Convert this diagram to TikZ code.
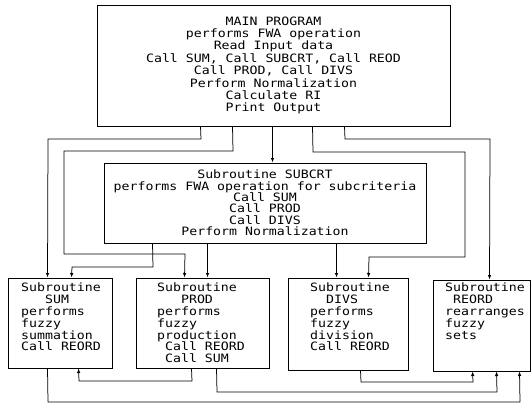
\documentclass[tikz,border=0pt]{standalone}
\usepackage{fontspec}
\newfontfamily\plotfont[FakeStretch=1.15]{DejaVu Sans Mono}
\usetikzlibrary{arrows.meta}
\begin{document}
\begin{tikzpicture}[x=1pt,y=-1pt,
  box/.style={draw, line width=1pt, rectangle, inner sep=0pt},
  maintxt/.style={font=\plotfont\fontsize{11.5}{12.4}\selectfont, align=center},
  subtxt/.style={font=\plotfont\fontsize{11.5}{11.4}\selectfont, align=center},
  smalltxt/.style={font=\plotfont\fontsize{11.5}{11.8}\selectfont, align=left, inner sep=0pt, anchor=north west},
  conn/.style={line width=0.75pt, -{Latex[length=4.5pt,width=3.5pt]}}]
\useasboundingbox (0,0) rectangle (532,407);
\fill[white] (0,0) rectangle (532,407);

\node[box, maintxt, minimum width=353pt, minimum height=121pt] (main) at (273.5,65.5)
 {MAIN PROGRAM\\performs FWA operation\\Read Input data\\Call SUM, Call SUBCRT, Call REOD\\Call PROD, Call DIVS\\Perform Normalization\\Calculate RI\\Print Output};

\node[box, subtxt, minimum width=322pt, minimum height=80pt] (subcrt) at (265,203)
 {Subroutine SUBCRT\\performs FWA operation for subcriteria\\Call SUM\\Call PROD\\Call DIVS\\Perform Normalization};

\node[box, minimum width=104pt, minimum height=90pt] (sum) at (60,323) {};
\node[box, minimum width=133pt, minimum height=90pt] (prod) at (202.5,323) {};
\node[box, minimum width=120pt, minimum height=92pt] (divs) at (348,324) {};
\node[box, minimum width=97pt, minimum height=91pt] (reord) at (481.5,325.5) {};

\node[smalltxt] (sumT) at (21,283) {Subroutine\\\phantom{SUB}SUM\\performs\\fuzzy\\summation\\Call REORD};
\node[smalltxt] (prodT) at (157,283) {Subroutine\\\phantom{SUB}PROD\\performs\\fuzzy\\production\\\phantom{C}Call REORD\\\phantom{C}Call SUM};
\node[smalltxt] (divsT) at (310,283) {Subroutine\\\phantom{SU}DIVS\\performs\\fuzzy\\division\\Call REORD};
\node[smalltxt] (reordT) at (445,283) {Subroutine\\\phantom{S}REORD\\rearranges\\fuzzy\\sets};

% from MAIN PROGRAM
\draw[conn] ([xshift=104pt]main.south west) -- (201,139) -- (48,139) -- ([xshift=40pt]sum.north west);
\draw[conn] ([xshift=136pt]main.south west) -- (233,151) -- (64,151) -- (64,254) -- (185,254) -- ([xshift=49pt]prod.north west);
\draw[conn] ([xshift=176pt]main.south west) -- ([xshift=169pt]subcrt.north west);
\draw[conn] ([xshift=216pt]main.south west) -- (313,152) -- (465,152) -- (465,257) -- (369,257) -- ([xshift=81pt]divs.north west);
\draw[conn] ([xshift=248pt]main.south west) -- (345,139) -- (490,139) -- ([xshift=57pt]reord.north west);

% from SUBCRT
\draw[conn] ([xshift=49pt]subcrt.south west) -- (153,267) -- (72,267) -- ([xshift=64pt]sum.north west);
\draw[conn] ([xshift=104pt]subcrt.south west) -- ([xshift=72pt]prod.north west);
\draw[conn] ([xshift=233pt]subcrt.south west) -- ([xshift=49pt]divs.north west);

% bottom returns
\draw[conn] ([xshift=56pt]prod.south west) -- (192,381) -- (79,381) -- ([xshift=71pt]sum.south west);
\draw[conn] ([xshift=40pt]sum.south west) -- (48,402) -- (520,402) -- ([xshift=87pt]reord.south west);
\draw[conn] ([xshift=81pt]prod.south west) -- (217,392) -- (497,392) -- ([xshift=64pt]reord.south west);
\draw[conn] ([xshift=73pt]divs.south west) -- (361,382) -- (473,382) -- ([xshift=40pt]reord.south west);
\end{tikzpicture}
\end{document}
